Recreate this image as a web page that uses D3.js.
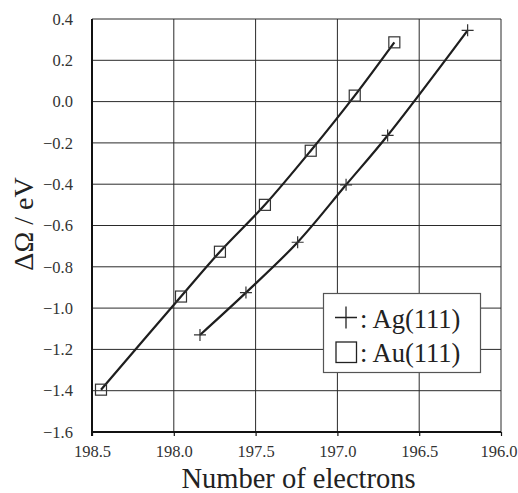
<!DOCTYPE html>
<html>
<head>
<meta charset="utf-8">
<script src="https://cdn.jsdelivr.net/npm/d3@7"></script>
<style>
  body { margin: 0; background: #fff; }
  svg { display: block; }
</style>
</head>
<body>
<div id="canvas"></div>
<script>
// data
var AU_ELECTRONS = [198.445, 197.956, 197.718, 197.443, 197.163, 196.894, 196.652];
var AU_OMEGA     = [-1.395, -0.944, -0.727, -0.500, -0.238, 0.029, 0.287];
var AG_ELECTRONS = [197.840, 197.559, 197.243, 196.947, 196.693, 196.204];
var AG_OMEGA     = [-1.130, -0.925, -0.681, -0.403, -0.164, 0.345];
var X_TICKS = [198.5, 198.0, 197.5, 197.0, 196.5, 196.0];
var Y_TICKS = [-1.6, -1.4, -1.2, -1.0, -0.8, -0.6, -0.4, -0.2, 0.0, 0.2, 0.4];
var LEGEND_LABELS = [': Ag(111)', ': Au(111)'];

var W = 518, H = 493;
var LEFT = 92, RIGHT = 501, TOP = 19, BOTTOM = 432;
var SERIF = 'Liberation Serif';

var svg = d3.select('#canvas').append('svg')
    .attr('width', W)
    .attr('height', H)
    .attr('font-family', SERIF);

var x = d3.scaleLinear().domain([198.5, 196.0]).range([LEFT, RIGHT]);
var y = d3.scaleLinear().domain([-1.6, 0.4]).range([BOTTOM, TOP]);

// grid
var grid = svg.append('g');
grid.selectAll('.gx').data(X_TICKS.slice(1)).enter().append('line')
    .attr('x1', function(d) { return x(d); })
    .attr('x2', function(d) { return x(d); })
    .attr('y1', TOP).attr('y2', BOTTOM)
    .attr('stroke', '#2a2a2a').attr('stroke-width', 1);
grid.selectAll('.gy').data(Y_TICKS.slice(1)).enter().append('line')
    .attr('x1', LEFT).attr('x2', RIGHT)
    .attr('y1', function(d) { return y(d); })
    .attr('y2', function(d) { return y(d); })
    .attr('stroke', '#2a2a2a').attr('stroke-width', 1);

// axes
var xAxis = d3.axisBottom(x).tickValues(X_TICKS).tickFormat(d3.format('.1f')).tickSize(4).tickPadding(9);
var yAxis = d3.axisLeft(y).tickValues(Y_TICKS).tickFormat(d3.format('.1f')).tickSize(0).tickPadding(19);

var gx = svg.append('g').attr('transform', 'translate(0,' + BOTTOM + ')').call(xAxis);
var gy = svg.append('g').attr('transform', 'translate(' + LEFT + ',0)').call(yAxis);
[gx, gy].forEach(function(g) {
    g.attr('font-family', SERIF).attr('font-size', 16.5);
    g.select('.domain').attr('stroke', '#111').attr('stroke-width', 2);
    g.selectAll('.tick line').attr('stroke', '#111').attr('stroke-width', 1.2);
    g.selectAll('.tick text')
        .style('font-family', SERIF)
        .style('font-size', '16.5px')
        .attr('fill', '#333');
});
gx.select('.domain').attr('d', 'M' + LEFT + ',0H' + RIGHT);
gy.select('.domain').attr('d', 'M0,' + TOP + 'V' + (BOTTOM + 4));
// keep the last x label inside the page
gx.selectAll('.tick text').filter(function(d) { return d === 196.0; })
    .attr('text-anchor', 'end').attr('dx', 16);

// axis titles
svg.append('text')
    .attr('x', 298.5)
    .attr('y', 487.5)
    .attr('text-anchor', 'middle')
    .style('font-family', SERIF)
    .style('font-size', '28.5px')
    .attr('fill', '#222')
    .text('Number of electrons');

svg.append('text')
    .attr('transform', 'translate(33,224) rotate(-90)')
    .attr('text-anchor', 'middle')
    .style('font-family', SERIF)
    .style('font-size', '28px')
    .attr('fill', '#222')
    .text('ΔΩ / eV');

// curves
function series(xs, ys) {
    return xs.map(function(v, i) { return [v, ys[i]]; });
}
var au = series(AU_ELECTRONS, AU_OMEGA);
var ag = series(AG_ELECTRONS, AG_OMEGA);

var line = d3.line()
    .x(function(d) { return x(d[0]); })
    .y(function(d) { return y(d[1]); })
    .curve(d3.curveCatmullRom.alpha(0.5));

[au, ag].forEach(function(s) {
    svg.append('path')
        .attr('d', line(s))
        .attr('fill', 'none')
        .attr('stroke', '#1e1e1e')
        .attr('stroke-width', 2.2);
});

// markers
var SQ = 11, PL = 6;
svg.selectAll('.au').data(au).enter().append('rect')
    .attr('x', function(d) { return x(d[0]) - SQ / 2; })
    .attr('y', function(d) { return y(d[1]) - SQ / 2; })
    .attr('width', SQ).attr('height', SQ)
    .attr('fill', 'none')
    .attr('stroke', '#333').attr('stroke-width', 1.2);

svg.selectAll('.ag').data(ag).enter().append('path')
    .attr('d', function(d) {
        var cx = x(d[0]), cy = y(d[1]);
        return 'M' + (cx - PL) + ',' + cy + 'H' + (cx + PL) + 'M' + cx + ',' + (cy - PL) + 'V' + (cy + PL);
    })
    .attr('stroke', '#333').attr('stroke-width', 1.2);

// legend
var lg = svg.append('g');
lg.append('rect')
    .attr('x', 323.5).attr('y', 293.5)
    .attr('width', 157).attr('height', 79)
    .attr('fill', '#fff')
    .attr('stroke', '#555').attr('stroke-width', 1.2);
lg.append('path')
    .attr('d', 'M335,317.5H357M346,306.5V328.5')
    .attr('stroke', '#222').attr('stroke-width', 1.3);
lg.append('rect')
    .attr('x', 336).attr('y', 342)
    .attr('width', 20.5).attr('height', 20.5)
    .attr('fill', 'none')
    .attr('stroke', '#222').attr('stroke-width', 1.3);
lg.selectAll('.lt').data(LEGEND_LABELS).enter().append('text')
    .attr('x', 360)
    .attr('y', function(d, i) { return 328 + i * 34; })
    .style('font-family', SERIF)
    .style('font-size', '26.5px')
    .attr('fill', '#222')
    .text(function(d) { return d; });
</script>
</body>
</html>
